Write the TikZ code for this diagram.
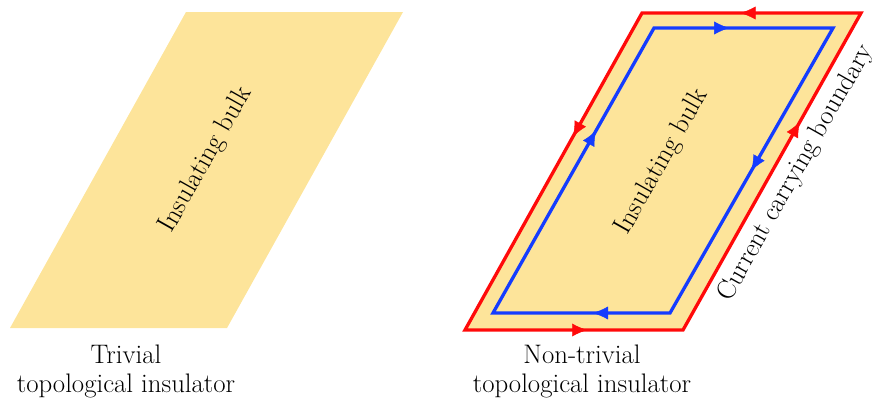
\documentclass[tikz,border=0pt]{standalone}
\usetikzlibrary{arrows.meta,decorations.markings}
\definecolor{bulk}{RGB}{253,228,154}
\definecolor{edgered}{RGB}{255,10,10}
\definecolor{edgeblue}{RGB}{20,60,255}
\tikzset{
  lbl/.style={font=\fontsize{26.8}{29}\selectfont, inner sep=0pt},
  caption/.style={lbl, align=center, anchor=north},
  edge/.style={line width=3.3pt, line join=miter, line cap=rect},
  tipmark/.style={postaction={decorate, decoration={markings,
     mark=at position #1 with {\arrow{Latex[length=15pt,width=13pt]}}}}}
}
\begin{document}
\begin{tikzpicture}[x=1pt,y=-1pt]
\useasboundingbox (0,0) rectangle (872,397);
% left parallelogram
\coordinate (L1) at (10,328);
\coordinate (L2) at (227,328);
\coordinate (L3) at (403,12);
\coordinate (L4) at (186,12);
\fill[bulk] (L1) -- (L2) -- (L3) -- (L4) -- cycle;
\node[lbl, rotate=60.5] (lb) at (206,160) {Insulating bulk};
\node[caption] (lc) at (126,344.5) {Trivial\\topological insulator};
% right parallelogram
\coordinate (R1) at (465,330);
\coordinate (R2) at (683,330);
\coordinate (R3) at (861,13);
\coordinate (R4) at (642,13);
\coordinate (B1) at (493,313);
\coordinate (B2) at (670,313);
\coordinate (B3) at (833,28);
\coordinate (B4) at (654,28);
\fill[bulk] (R1) -- (R2) -- (R3) -- (R4) -- cycle;
\draw[edge, edgered] (R1) -- (R2) -- (R3) -- (R4) -- cycle;
\draw[edge, edgeblue] (B1) -- (B2) -- (B3) -- (B4) -- cycle;
% red arrows (counter-clockwise)
\path[edgered, tipmark=0.56] (R1) -- (R2);
\path[edgered, tipmark=0.656] (R2) -- (R3);
\path[edgered, tipmark=0.55] (R3) -- (R4);
\path[edgered, tipmark=0.39] (R4) -- (R1);
% blue arrows (clockwise)
\path[edgeblue, tipmark=0.42] (B4) -- (B3);
\path[edgeblue, tipmark=0.5] (B3) -- (B2);
\path[edgeblue, tipmark=0.435] (B2) -- (B1);
\path[edgeblue, tipmark=0.64] (B1) -- (B4);
\node[lbl, rotate=60.5] (rb) at (662,162) {Insulating bulk};
\node[lbl, rotate=60.5] (cb) at (796,173) {Current carrying boundary};
\node[caption] (rc) at (582,344.5) {Non-trivial\\topological insulator};
\end{tikzpicture}
\end{document}
